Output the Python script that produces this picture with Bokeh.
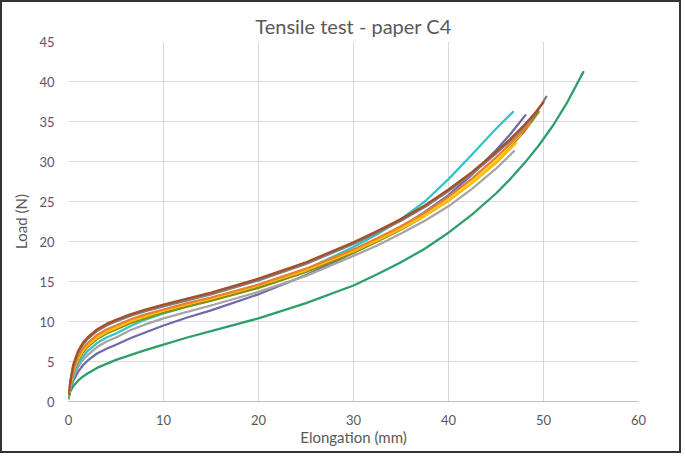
from bokeh.plotting import figure
from bokeh.models import Range1d, SingleIntervalTicker
from bokeh.embed import file_html
from bokeh.resources import INLINE

# ---- data ----
grid_x = [0, 0.2, 0.5, 1, 1.5, 2, 3, 4, 5, 6.5, 8, 10, 12.5, 15, 20, 25,
          30, 32.5, 35, 37.5, 40, 42.5, 45]

green_x = grid_x + [46.5, 48, 49.5, 51, 52.5, 54.2]
green_y = [0.3, 1.3, 1.9, 2.6, 3.1, 3.5, 4.2, 4.7, 5.2, 5.8, 6.4, 7.1, 8.0, 8.8, 10.4, 12.3,
           14.5, 15.9, 17.4, 19.1, 21.1, 23.4, 26.0, 27.8, 29.8, 32.0, 34.5, 37.4, 41.2]

slate_x = grid_x + [46.5, 48.1]
slate_y = [0.5, 1.5, 2.6, 3.7, 4.5, 5.1, 6.0, 6.6, 7.1, 7.9, 8.6, 9.5, 10.5, 11.4, 13.4, 15.8,
           18.6, 20.1, 21.8, 23.7, 25.8, 28.4, 31.4, 33.4, 35.8]

lgray_x = grid_x + [46.9]
lgray_y = [0.5, 1.7, 3.0, 4.3, 5.2, 5.8, 6.8, 7.5, 8.0, 8.9, 9.6, 10.4, 11.2, 12.0, 13.7, 15.7,
           18.2, 19.5, 21.0, 22.6, 24.4, 26.6, 29.1, 31.3]

cyan_x = grid_x[:16] + [30, 32.5, 35, 37.5, 40, 42.5, 45, 46.8]
cyan_y = [0.6, 1.9, 3.3, 4.7, 5.6, 6.3, 7.3, 8.0, 8.5, 9.4, 10.2, 11.0, 11.85, 12.6, 14.3, 16.5,
          19.3, 20.9, 22.8, 25.0, 27.8, 30.9, 34.1, 36.2]

olive_x = grid_x + [46.5, 48, 49.5]
olive_y = [0.6, 2.0, 3.6, 5.1, 6.1, 6.8, 7.8, 8.5, 9.0, 9.8, 10.4, 11.1, 11.9, 12.6, 14.2, 16.2,
           18.6, 20.0, 21.5, 23.2, 25.1, 27.4, 30.0, 31.8, 33.8, 36.2]

gold_x = grid_x + [47.6]
gold_y = [0.7, 2.2, 3.9, 5.4, 6.4, 7.1, 8.1, 8.8, 9.3, 10.1, 10.7, 11.4, 12.2, 12.9, 14.6, 16.5,
          18.9, 20.3, 21.8, 23.45, 25.3, 27.6, 30.2, 33.4]

yellow_x = grid_x + [47.1]
yellow_y = [0.7, 2.1, 3.8, 5.3, 6.3, 7.0, 8.0, 8.7, 9.2, 10.0, 10.6, 11.35, 12.15, 12.85, 14.5, 16.4,
            18.8, 20.15, 21.6, 23.2, 25.1, 27.3, 29.8, 32.3]

orange_x = grid_x + [47, 48.6]
orange_y = [0.7, 2.2, 4.0, 5.6, 6.6, 7.3, 8.3, 9.0, 9.5, 10.25, 10.85, 11.5, 12.3, 13.0, 14.6, 16.6,
            19.0, 20.4, 21.9, 23.6, 25.6, 27.9, 30.5, 32.8, 34.8]

gray_x = grid_x + [46.5, 48, 49.2, 50.3]
gray_y = [0.8, 2.5, 4.4, 6.1, 7.1, 7.8, 8.8, 9.5, 10.0, 10.7, 11.25, 11.9, 12.65, 13.4, 15.15, 17.2,
          19.7, 21.1, 22.6, 24.3, 26.3, 28.5, 31.0, 32.6, 34.4, 36.0, 38.1]

brown_x = grid_x + [46.5, 48, 49, 50.0]
brown_y = [0.9, 2.6, 4.6, 6.3, 7.3, 8.0, 9.0, 9.7, 10.2, 10.9, 11.45, 12.1, 12.85, 13.6, 15.35, 17.4,
           19.9, 21.3, 22.8, 24.5, 26.5, 28.7, 31.2, 32.8, 34.6, 35.9, 37.4]

series = [
    (green_x, green_y, "#2E9E6B"),
    (slate_x, slate_y, "#6C6CAA"),
    (lgray_x, lgray_y, "#A5A5A5"),
    (cyan_x, cyan_y, "#33C4C8"),
    (olive_x, olive_y, "#8F8A0A"),
    (gold_x, gold_y, "#FFD23C"),
    (yellow_x, yellow_y, "#FFC000"),
    (orange_x, orange_y, "#ED7D31"),
    (gray_x, gray_y, "#7F7F7F"),
    (brown_x, brown_y, "#A4512B"),
]

title_text = "Tensile test - paper C4"
x_label = "Elongation (mm)"
y_label = "Load (N)"

FONT = "Lato"
TXT = "#595959"

p = figure(width=681, height=453, output_backend="svg", toolbar_location=None,
           x_range=Range1d(0, 60), y_range=Range1d(0, 45),
           min_border_left=66, min_border_right=45, min_border_top=39, min_border_bottom=54,
           title=title_text)
p.styles = {"border": "2px solid #333333"}

p.title.align = "center"
p.title.text_font = FONT
p.title.text_font_style = "normal"
p.title.text_font_size = "20px"
p.title.text_color = TXT
p.title.standoff = 8

p.outline_line_color = None
p.background_fill_color = "white"
p.border_fill_color = "white"

p.xaxis.ticker = SingleIntervalTicker(interval=10)
p.yaxis.ticker = SingleIntervalTicker(interval=5)
p.xgrid.ticker = SingleIntervalTicker(interval=10)
p.ygrid.ticker = SingleIntervalTicker(interval=5)
p.grid.grid_line_color = "#D9D9D9"
p.grid.grid_line_width = 1

for ax in (p.xaxis[0], p.yaxis[0]):
    ax.major_tick_line_color = None
    ax.minor_tick_line_color = None
    ax.major_label_text_font = FONT
    ax.major_label_text_font_size = "13px"
    ax.major_label_text_color = TXT
    ax.axis_label_text_font = FONT
    ax.axis_label_text_font_size = "15px"
    ax.axis_label_text_font_style = "normal"
    ax.axis_label_text_color = TXT

p.xaxis.axis_label = x_label
p.yaxis.axis_label = y_label
p.xaxis.axis_line_color = "#BFBFBF"
p.yaxis.axis_line_color = None
p.xaxis.major_label_standoff = 7
p.yaxis.major_label_standoff = 8
p.xaxis.axis_label_standoff = 0
p.yaxis.axis_label_standoff = 6

for xs, ys, c in series:
    p.line(xs, ys, line_color=c, line_width=2.3, line_join="round", line_cap="round")

open("out.html", "w").write(file_html(p, INLINE))
